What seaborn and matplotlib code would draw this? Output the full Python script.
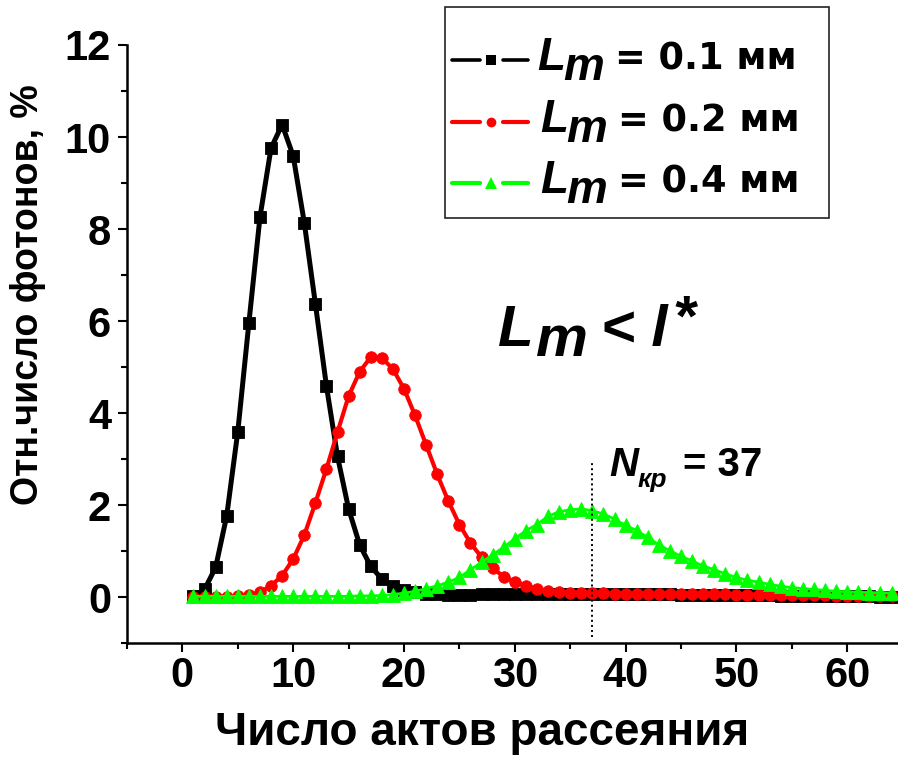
import matplotlib
matplotlib.use("Agg")
import matplotlib.pyplot as plt
import pandas as pd
import seaborn as sns
from matplotlib.lines import Line2D
from matplotlib.patches import Rectangle
from matplotlib.ticker import MultipleLocator

# Number of scattering events (x axis)
scatter_acts = list(range(1, 65))

# Relative photon count, % — Lm = 0.1 mm
share_01 = [0.02, 0.17, 0.65, 1.77, 3.60, 5.96, 8.26, 9.76, 10.27, 9.59,
            8.14, 6.38, 4.59, 3.06, 1.92, 1.14, 0.67, 0.40, 0.25, 0.16,
            0.11, 0.08, 0.07, 0.06, 0.06, 0.06, 0.07, 0.07, 0.07, 0.07,
            0.08, 0.08, 0.08, 0.08, 0.08, 0.08, 0.08, 0.08, 0.08, 0.08,
            0.08, 0.07, 0.07, 0.07, 0.06, 0.06, 0.06, 0.05, 0.05, 0.05,
            0.04, 0.04, 0.04, 0.03, 0.03, 0.03, 0.03, 0.02, 0.02, 0.02,
            0.02, 0.02, 0.01, 0.01]

# Lm = 0.2 mm
share_02 = [0.00, 0.00, 0.01, 0.01, 0.02, 0.04, 0.11, 0.25, 0.47, 0.83,
            1.35, 2.05, 2.79, 3.59, 4.37, 4.90, 5.22, 5.20, 4.96, 4.53,
            3.95, 3.31, 2.67, 2.09, 1.58, 1.18, 0.87, 0.63, 0.45, 0.33,
            0.25, 0.18, 0.14, 0.11, 0.10, 0.09, 0.09, 0.09, 0.08, 0.08,
            0.08, 0.08, 0.08, 0.08, 0.08, 0.07, 0.07, 0.07, 0.07, 0.06,
            0.06, 0.06, 0.05, 0.05, 0.05, 0.04, 0.04, 0.04, 0.03, 0.03,
            0.03, 0.03, 0.02, 0.02]

# Lm = 0.4 mm
share_04 = [0.02, 0.02, 0.02, 0.02, 0.02, 0.02, 0.02, 0.02, 0.02, 0.02,
            0.02, 0.02, 0.02, 0.02, 0.02, 0.03, 0.03, 0.04, 0.06, 0.09,
            0.13, 0.19, 0.25, 0.33, 0.43, 0.60, 0.76, 0.92, 1.09, 1.27,
            1.45, 1.58, 1.76, 1.86, 1.90, 1.92, 1.88, 1.81, 1.70, 1.56,
            1.45, 1.30, 1.14, 1.01, 0.89, 0.79, 0.68, 0.60, 0.51, 0.43,
            0.37, 0.33, 0.28, 0.24, 0.21, 0.19, 0.17, 0.15, 0.13, 0.12,
            0.11, 0.10, 0.10, 0.09]

series_values = ["0.1", "0.2", "0.4"]
series_colors = ["#000000", "#FF0000", "#00FF00"]
series_markers = ["s", "o", "^"]

critical_n = 37
critical_label = "37"

x_ticks = [0, 10, 20, 30, 40, 50, 60]
y_ticks = [0, 2, 4, 6, 8, 10, 12]

df = pd.DataFrame({
    "n": scatter_acts * 3,
    "share": share_01 + share_02 + share_04,
    "lm": [v for v in series_values for _ in scatter_acts],
})

sns.set_style("ticks")
plt.rcParams["font.family"] = ["Liberation Sans", "DejaVu Sans"]
plt.rcParams["font.weight"] = "bold"
for key in ("text.color", "axes.labelcolor", "xtick.color", "ytick.color",
            "axes.edgecolor"):
    plt.rcParams[key] = "black"

W, H = 898, 757
fig = plt.figure(figsize=(W / 100, H / 100), dpi=100)
ax = fig.add_axes([127 / W, 1 - 643.3 / H, 775.6 / W, 598.3 / H])

line_kw = {
    "0.1": dict(linewidth=3.6, markersize=8.0),
    "0.2": dict(linewidth=3.0, markersize=8.3),
    "0.4": dict(linewidth=2.0, markersize=10.0),
}
for val, col, mk in zip(series_values, series_colors, series_markers):
    sub = df[df["lm"] == val]
    sns.lineplot(data=sub, x="n", y="share", ax=ax, color=col, marker=mk,
                 markeredgecolor=col, markeredgewidth=0.6, estimator=None,
                 sort=False, legend=False, **line_kw[val])

# critical number of scattering events
ax.vlines(critical_n, -0.86, 2.96, colors="black", linewidth=1.4,
          linestyles=(0, (1.0, 1.6)))

ax.set_xlim(-5, 65)
ax.set_ylim(-1, 12)
ax.set_xticks(x_ticks)
ax.set_yticks(y_ticks)
ax.xaxis.set_minor_locator(MultipleLocator(5))
ax.yaxis.set_minor_locator(MultipleLocator(1))
sns.despine(ax=ax)
for s in ("left", "bottom"):
    ax.spines[s].set_linewidth(1.8)
    ax.spines[s].set_color("black")
ax.tick_params(which="major", length=6.5, width=1.5, labelsize=30, pad=3,
               colors="black")
ax.tick_params(which="minor", length=4.5, width=1.5, colors="black")
ax.tick_params(axis="y", which="major", pad=5)
for lab in ax.get_xticklabels() + ax.get_yticklabels():
    lab.set_fontweight("bold")

ax.set_xlabel("Число актов рассеяния", fontsize=33, fontweight="bold",
              color="black")
ax.set_ylabel("Отн.число фотонов, %", fontsize=27, fontweight="bold",
              color="black")
ax.xaxis.set_label_coords(0.458, -0.113)
ax.xaxis.label.set_va("top")
ax.yaxis.set_label_coords(-0.105, 0.582)

# Lm < l* annotation
bi = dict(fontweight="bold", fontstyle="italic", color="black")
anchor = (28.46, 5.46)
ax.annotate("L", anchor, xytext=(0, 0), textcoords="offset pixels",
            fontsize=42, ha="left", va="baseline", **bi)
ax.annotate("m", anchor, xytext=(38, -10), textcoords="offset pixels",
            fontsize=42, ha="left", va="baseline", **bi)
ax.annotate("< l", anchor, xytext=(103, 0), textcoords="offset pixels",
            fontsize=42, ha="left", va="baseline", **bi)
ax.annotate("*", anchor, xytext=(175, 10), textcoords="offset pixels",
            fontsize=42, ha="left", va="baseline", **bi)

# N_кр = 37 annotation
n_anchor = (38.57, 2.64)
ax.annotate("N", n_anchor, xytext=(0, 0), textcoords="offset pixels",
            fontsize=29, ha="left", va="baseline", **bi)
ax.annotate("кр", n_anchor, xytext=(28, -11), textcoords="offset pixels",
            fontsize=19, ha="left", va="baseline", **bi)
ax.annotate("= " + critical_label, n_anchor, xytext=(73, 0),
            textcoords="offset pixels", fontsize=29, ha="left",
            va="baseline", fontweight="bold", color="black")


# Legend box
def fx(px):
    return px / W


def fy(py):
    return 1 - py / H


fig.patches.append(Rectangle((fx(445), fy(218)), fx(829) - fx(445),
                             fy(7) - fy(218), transform=fig.transFigure,
                             facecolor="white", edgecolor="#222222",
                             linewidth=1.2, zorder=5))
row_y = [60, 122, 183]
row_lx = [537, 540, 540]
leg_lw = [2.6, 3.0, 3.0]
leg_ms = [6.5, 7.0, 8.5]
for i, (val, col, mk) in enumerate(zip(series_values, series_colors,
                                        series_markers)):
    y = row_y[i]
    for x0, x1 in ((452, 480), (503, 528)):
        fig.lines.append(Line2D([fx(x0), fx(x1)], [fy(y), fy(y)],
                                transform=fig.transFigure, color=col,
                                linewidth=leg_lw[i], zorder=6))
    fig.lines.append(Line2D([fx(491)], [fy(y)], transform=fig.transFigure,
                            color=col, marker=mk, markersize=leg_ms[i],
                            markeredgewidth=0, linestyle="none", zorder=6))
    base = y + 10
    lx = row_lx[i]
    fig.text(fx(lx), fy(base), "L", fontsize=33, ha="left", va="baseline",
             zorder=7, **bi)
    fig.text(fx(lx + 26), fy(base + 10), "m", fontsize=33, ha="left",
             va="baseline", zorder=7, **bi)
    fig.text(fx(lx + 78), fy(base), "= " + val + " мм", fontsize=26.5,
             ha="left", va="baseline", fontweight="bold",
             family=["DejaVu Sans"], color="black", zorder=7)

fig.savefig("out.png", dpi=100)
